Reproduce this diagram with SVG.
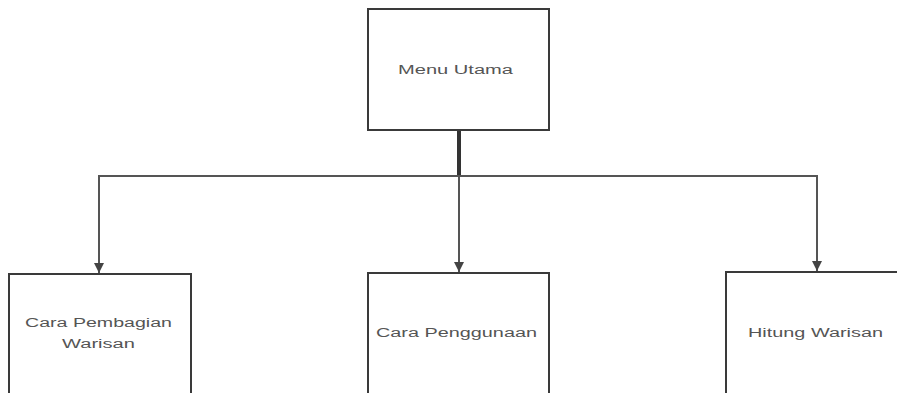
<svg xmlns="http://www.w3.org/2000/svg" width="897" height="393" viewBox="0 0 897 393">
<style>
.box{fill:#ffffff;stroke:#3a3a3a;stroke-width:2}
.lbl{font-family:"Liberation Sans",Arial,sans-serif;font-size:12px;fill:#555;text-anchor:start}
.ln{fill:none;stroke:#555;stroke-width:2}
</style>
<defs>
<marker id="ah" viewBox="0 0 10 10" refX="10" refY="5" markerWidth="5" markerHeight="5" orient="auto" markerUnits="strokeWidth">
<path d="M0,0 L10,5 L0,10 z" fill="#444"/>
</marker>
</defs>
<rect width="897" height="393" fill="#ffffff"/>
<g id="connectors">
<line x1="459" y1="130" x2="459" y2="177" stroke="#333" stroke-width="4"/>
<line class="ln" x1="98" y1="176" x2="818" y2="176" stroke="#777"/>
<line class="ln" x1="99" y1="176" x2="99" y2="273" marker-end="url(#ah)"/>
<line class="ln" x1="459" y1="176" x2="459" y2="272" marker-end="url(#ah)"/>
<line class="ln" x1="817" y1="176" x2="817" y2="271" marker-end="url(#ah)"/>
</g>
<g id="menu-utama">
<rect class="box" x="368" y="9" width="181" height="121"/>
<text class="lbl" x="398" y="74" textLength="115" lengthAdjust="spacingAndGlyphs">Menu Utama</text>
</g>
<g id="cara-pembagian">
<rect class="box" x="9" y="274" width="182" height="130"/>
<text class="lbl" x="25" y="327" textLength="147" lengthAdjust="spacingAndGlyphs">Cara Pembagian</text>
<text class="lbl" x="62" y="348" textLength="73" lengthAdjust="spacingAndGlyphs">Warisan</text>
</g>
<g id="cara-penggunaan">
<rect class="box" x="368" y="273" width="181" height="130"/>
<text class="lbl" x="376" y="337" textLength="161" lengthAdjust="spacingAndGlyphs">Cara Penggunaan</text>
</g>
<g id="hitung-warisan">
<rect class="box" x="726" y="272" width="181" height="130"/>
<text class="lbl" x="748" y="337" textLength="135" lengthAdjust="spacingAndGlyphs">Hitung Warisan</text>
</g>
</svg>
